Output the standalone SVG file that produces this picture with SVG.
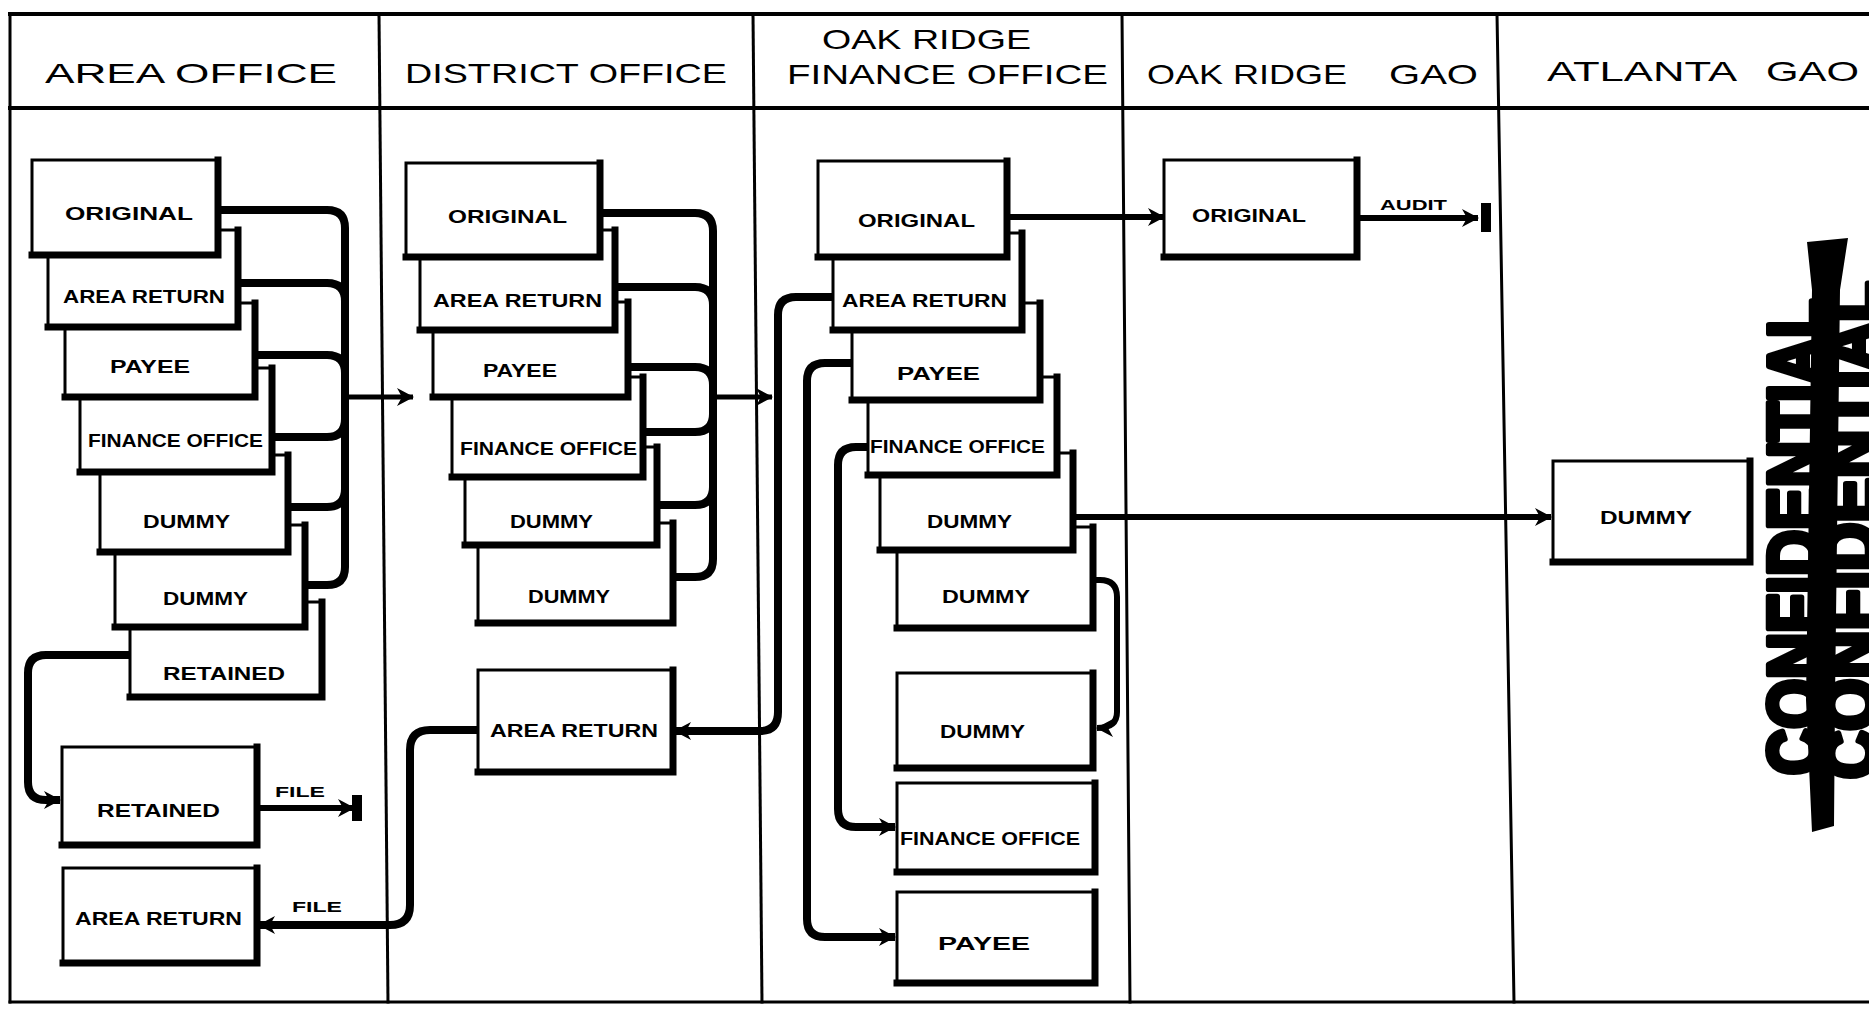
<svg xmlns="http://www.w3.org/2000/svg" width="1869" height="1013" viewBox="0 0 1869 1013">
<style>
.frame{stroke:#000;fill:none;stroke-linecap:square}
.box{fill:#fff;stroke:#000;stroke-width:3}
.edge{fill:none;stroke:#000;stroke-width:7;stroke-linecap:square}
.lbl{font-family:"Liberation Sans",Arial,sans-serif;font-weight:bold;font-size:18px;fill:#000}
.hdr{font-family:"Liberation Sans",Arial,sans-serif;font-size:28px;fill:#000}
.small{font-family:"Liberation Sans",Arial,sans-serif;font-weight:bold;font-size:15px;fill:#000}
.c{fill:none;stroke:#000;stroke-width:8;stroke-linejoin:round}
.c6{fill:none;stroke:#000;stroke-width:6}
.c5{fill:none;stroke:#000;stroke-width:5}
.stamp{font-family:"Liberation Sans",Arial,sans-serif;font-weight:bold;font-size:74px;fill:#000;stroke:#000;stroke-width:6;stroke-linejoin:round}
</style>
<defs>
<marker id="ah" markerUnits="userSpaceOnUse" viewBox="0 0 24 24" refX="20" refY="12" markerWidth="24" markerHeight="24" orient="auto">
<path d="M4,3 L21,12 L4,21 L9,12 Z" fill="#000"/>
</marker>
</defs>
<rect x="0" y="0" width="1869" height="1013" fill="#fff"/>

<g id="frame">
<path class="frame" stroke-width="4" d="M10,14 H1869"/>
<path class="frame" stroke-width="4" d="M10,108 H1869"/>
<path class="frame" stroke-width="3" d="M10,1002 H1869"/>
<path class="frame" stroke-width="3" d="M10,14 V1002"/>
<path class="frame" stroke-width="3" d="M379,14 L388,1002"/>
<path class="frame" stroke-width="3" d="M753,14 L762,1002"/>
<path class="frame" stroke-width="3" d="M1122,14 L1130,1002"/>
<path class="frame" stroke-width="3" d="M1497,14 L1514,1002"/>
</g>

<g id="headers">
<text class="hdr" x="45" y="83" textLength="292" lengthAdjust="spacingAndGlyphs">AREA OFFICE</text>
<text class="hdr" x="405" y="83" textLength="322" lengthAdjust="spacingAndGlyphs">DISTRICT OFFICE</text>
<text class="hdr" x="822" y="49" textLength="209" lengthAdjust="spacingAndGlyphs">OAK RIDGE</text>
<text class="hdr" x="787" y="84" textLength="321" lengthAdjust="spacingAndGlyphs">FINANCE OFFICE</text>
<text class="hdr" y="84"><tspan x="1147" textLength="200" lengthAdjust="spacingAndGlyphs">OAK RIDGE</tspan><tspan x="1389" textLength="89" lengthAdjust="spacingAndGlyphs">GAO</tspan></text>
<text class="hdr" y="81"><tspan x="1547" textLength="190" lengthAdjust="spacingAndGlyphs">ATLANTA</tspan><tspan x="1766" textLength="93" lengthAdjust="spacingAndGlyphs">GAO</tspan></text>
</g>

<g id="connectors">
<path class="c" d="M218,210 H327 Q345,210 345,228 V567 Q345,585 327,585 H305"/>
<path class="c" d="M238,283 H327 Q345,283 345,301"/>
<path class="c" d="M255,355 H327 Q345,355 345,373"/>
<path class="c" d="M272,437 H327 Q345,437 345,419"/>
<path class="c" d="M288,507 H327 Q345,507 345,489"/>
<path class="c5" d="M345,397 H413" marker-end="url(#ah)"/>
<path class="c" d="M130,655 H46 Q28,655 28,673 V782 Q28,800 46,800 H60" marker-end="url(#ah)"/>
<path class="c6" d="M257,808 H354" marker-end="url(#ah)"/>
<rect x="352" y="795" width="10" height="26" fill="#000"/>
<text class="small" x="275" y="797" textLength="50" lengthAdjust="spacingAndGlyphs">FILE</text>
<path class="c" d="M478,730 H430 Q410,730 410,750 V905 Q410,925 390,925 H259" marker-end="url(#ah)"/>
<text class="small" x="292" y="912" textLength="50" lengthAdjust="spacingAndGlyphs">FILE</text>
<path class="c" d="M600,213 H695 Q713,213 713,231 V559 Q713,577 695,577 H673"/>
<path class="c" d="M615,287 H695 Q713,287 713,305"/>
<path class="c" d="M628,367 H695 Q713,367 713,385"/>
<path class="c" d="M643,432 H695 Q713,432 713,414"/>
<path class="c" d="M657,505 H695 Q713,505 713,487"/>
<path class="c5" d="M713,397 H772" marker-end="url(#ah)"/>
<path class="c6" d="M1007,217 H1164" marker-end="url(#ah)"/>
<path class="c" d="M833,297 H796 Q778,297 778,315 V712 Q778,731 760,731 H675" marker-end="url(#ah)"/>
<path class="c" d="M852,363 H825 Q807,363 807,381 V919 Q807,937 825,937 H895" marker-end="url(#ah)"/>
<path class="c" d="M868,447 H856 Q838,447 838,465 V809 Q838,827 856,827 H895" marker-end="url(#ah)"/>
<path class="c6" d="M1073,517 H1551" marker-end="url(#ah)"/>
<path class="c6" d="M1093,580 H1100 Q1117,580 1117,597 V712 Q1117,728 1097,728" marker-end="url(#ah)"/>
<path class="c6" d="M1357,218 H1478" marker-end="url(#ah)"/>
<rect x="1481" y="203" width="10" height="29" fill="#000"/>
<text class="small" x="1380" y="210" textLength="67" lengthAdjust="spacingAndGlyphs">AUDIT</text>
</g>

<g id="a-retained"><rect class="box" x="130" y="602" width="192" height="95"/><path class="edge" d="M322,602 V697 H130"/><text class="lbl" x="163" y="680" textLength="122" lengthAdjust="spacingAndGlyphs">RETAINED</text></g>
<g id="a-dummy2"><rect class="box" x="115" y="525" width="190" height="102"/><path class="edge" d="M305,525 V627 H115"/><text class="lbl" x="163" y="605" textLength="85" lengthAdjust="spacingAndGlyphs">DUMMY</text></g>
<g id="a-dummy1"><rect class="box" x="100" y="455" width="188" height="97"/><path class="edge" d="M288,455 V552 H100"/><text class="lbl" x="143" y="528" textLength="87" lengthAdjust="spacingAndGlyphs">DUMMY</text></g>
<g id="a-finance"><rect class="box" x="80" y="368" width="192" height="104"/><path class="edge" d="M272,368 V472 H80"/><text class="lbl" x="88" y="447" textLength="175" lengthAdjust="spacingAndGlyphs">FINANCE OFFICE</text></g>
<g id="a-payee"><rect class="box" x="65" y="303" width="190" height="94"/><path class="edge" d="M255,303 V397 H65"/><text class="lbl" x="110" y="373" textLength="80" lengthAdjust="spacingAndGlyphs">PAYEE</text></g>
<g id="a-areareturn"><rect class="box" x="48" y="230" width="190" height="97"/><path class="edge" d="M238,230 V327 H48"/><text class="lbl" x="63" y="303" textLength="162" lengthAdjust="spacingAndGlyphs">AREA RETURN</text></g>
<g id="a-original"><rect class="box" x="32" y="160" width="186" height="95"/><path class="edge" d="M218,160 V255 H32"/><text class="lbl" x="65" y="220" textLength="128" lengthAdjust="spacingAndGlyphs">ORIGINAL</text></g>
<g id="a-retained-file"><rect class="box" x="62" y="747" width="195" height="98"/><path class="edge" d="M257,747 V845 H62"/><text class="lbl" x="97" y="817" textLength="123" lengthAdjust="spacingAndGlyphs">RETAINED</text></g>
<g id="a-areareturn-file"><rect class="box" x="63" y="868" width="194" height="95"/><path class="edge" d="M257,868 V963 H63"/><text class="lbl" x="75" y="925" textLength="167" lengthAdjust="spacingAndGlyphs">AREA RETURN</text></g>

<g id="d-dummy2"><rect class="box" x="478" y="523" width="195" height="100"/><path class="edge" d="M673,523 V623 H478"/><text class="lbl" x="528" y="603" textLength="82" lengthAdjust="spacingAndGlyphs">DUMMY</text></g>
<g id="d-dummy1"><rect class="box" x="465" y="447" width="192" height="98"/><path class="edge" d="M657,447 V545 H465"/><text class="lbl" x="510" y="528" textLength="83" lengthAdjust="spacingAndGlyphs">DUMMY</text></g>
<g id="d-finance"><rect class="box" x="452" y="377" width="191" height="100"/><path class="edge" d="M643,377 V477 H452"/><text class="lbl" x="460" y="455" textLength="177" lengthAdjust="spacingAndGlyphs">FINANCE OFFICE</text></g>
<g id="d-payee"><rect class="box" x="433" y="302" width="195" height="95"/><path class="edge" d="M628,302 V397 H433"/><text class="lbl" x="483" y="377" textLength="74" lengthAdjust="spacingAndGlyphs">PAYEE</text></g>
<g id="d-areareturn"><rect class="box" x="420" y="230" width="195" height="100"/><path class="edge" d="M615,230 V330 H420"/><text class="lbl" x="433" y="307" textLength="169" lengthAdjust="spacingAndGlyphs">AREA RETURN</text></g>
<g id="d-original"><rect class="box" x="406" y="163" width="194" height="94"/><path class="edge" d="M600,163 V257 H406"/><text class="lbl" x="448" y="223" textLength="119" lengthAdjust="spacingAndGlyphs">ORIGINAL</text></g>
<g id="d-areareturn-lower"><rect class="box" x="478" y="670" width="195" height="102"/><path class="edge" d="M673,670 V772 H478"/><text class="lbl" x="490" y="737" textLength="168" lengthAdjust="spacingAndGlyphs">AREA RETURN</text></g>

<g id="f-dummy2"><rect class="box" x="897" y="527" width="196" height="101"/><path class="edge" d="M1093,527 V628 H897"/><text class="lbl" x="942" y="603" textLength="88" lengthAdjust="spacingAndGlyphs">DUMMY</text></g>
<g id="f-dummy1"><rect class="box" x="880" y="453" width="193" height="97"/><path class="edge" d="M1073,453 V550 H880"/><text class="lbl" x="927" y="528" textLength="85" lengthAdjust="spacingAndGlyphs">DUMMY</text></g>
<g id="f-finance"><rect class="box" x="868" y="377" width="189" height="98"/><path class="edge" d="M1057,377 V475 H868"/><text class="lbl" x="870" y="453" textLength="175" lengthAdjust="spacingAndGlyphs">FINANCE OFFICE</text></g>
<g id="f-payee"><rect class="box" x="852" y="303" width="188" height="97"/><path class="edge" d="M1040,303 V400 H852"/><text class="lbl" x="897" y="380" textLength="83" lengthAdjust="spacingAndGlyphs">PAYEE</text></g>
<g id="f-areareturn"><rect class="box" x="833" y="233" width="189" height="97"/><path class="edge" d="M1022,233 V330 H833"/><text class="lbl" x="842" y="307" textLength="165" lengthAdjust="spacingAndGlyphs">AREA RETURN</text></g>
<g id="f-original"><rect class="box" x="818" y="161" width="189" height="96"/><path class="edge" d="M1007,161 V257 H818"/><text class="lbl" x="858" y="227" textLength="117" lengthAdjust="spacingAndGlyphs">ORIGINAL</text></g>
<g id="f-dummy3"><rect class="box" x="897" y="673" width="196" height="95"/><path class="edge" d="M1093,673 V768 H897"/><text class="lbl" x="940" y="738" textLength="85" lengthAdjust="spacingAndGlyphs">DUMMY</text></g>
<g id="f-finance-lower"><rect class="box" x="897" y="783" width="198" height="89"/><path class="edge" d="M1095,783 V872 H897"/><text class="lbl" x="900" y="845" textLength="180" lengthAdjust="spacingAndGlyphs">FINANCE OFFICE</text></g>
<g id="f-payee-lower"><rect class="box" x="897" y="892" width="198" height="91"/><path class="edge" d="M1095,892 V983 H897"/><text class="lbl" x="938" y="950" textLength="92" lengthAdjust="spacingAndGlyphs">PAYEE</text></g>

<g id="g-original"><rect class="box" x="1164" y="160" width="193" height="97"/><path class="edge" d="M1357,160 V257 H1164"/><text class="lbl" x="1192" y="222" textLength="114" lengthAdjust="spacingAndGlyphs">ORIGINAL</text></g>

<g id="at-dummy"><rect class="box" x="1553" y="461" width="197" height="101"/><path class="edge" d="M1750,461 V562 H1553"/><text class="lbl" x="1600" y="524" textLength="92" lengthAdjust="spacingAndGlyphs">DUMMY</text></g>

<g id="stamp">
<text class="stamp" transform="translate(1820,775) rotate(-90)" textLength="476" lengthAdjust="spacingAndGlyphs">CONFIDENTIAL</text>
<text class="stamp" transform="translate(1876,779) rotate(-90)" textLength="498" lengthAdjust="spacingAndGlyphs">CONFIDENTIAL</text>
<path d="M1807,242 L1848,238 L1840,290 L1835,700 L1834,826 L1812,832 L1806,700 L1812,290 Z" fill="#000"/>
</g>
</svg>
